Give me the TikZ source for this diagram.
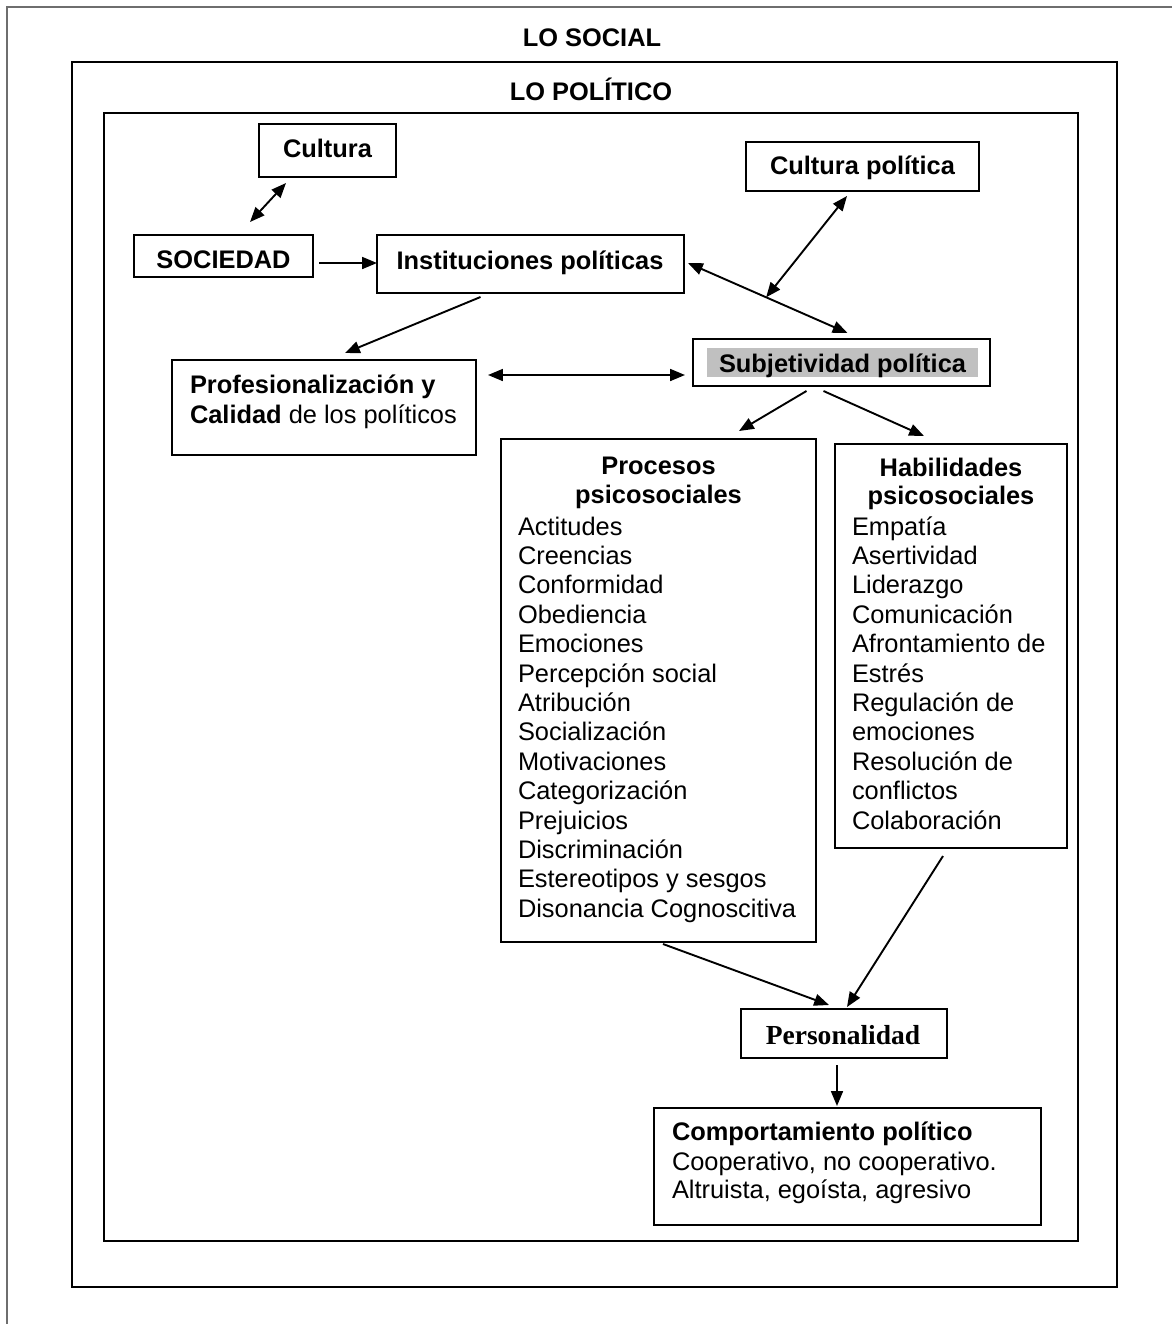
\documentclass[tikz,border=0pt]{standalone}
\usepackage{fontspec}
\setmainfont{Liberation Sans}
\newfontfamily\seriff{Liberation Serif}
\usetikzlibrary{arrows.meta,fit}
\definecolor{hl}{RGB}{192,192,192}
\definecolor{framegray}{RGB}{110,110,110}
\begin{document}
\begin{tikzpicture}[x=0.4724pt,y=-0.4724pt,
  every node/.style={font=\fontsize{12}{13.9}\selectfont, inner sep=0pt, outer sep=0pt},
  box/.style={draw, line width=0.65pt},
  frame/.style={draw, line width=0.65pt},
  arr/.style={-{Triangle[length=7pt,width=5.6pt]}, line width=0.9pt},
  dbl/.style={{Triangle[length=7pt,width=5.6pt]}-{Triangle[length=7pt,width=5.6pt]}, line width=0.9pt},
  lbl/.style={anchor=base west},
  ttl/.style={anchor=base, font=\fontsize{12}{13.9}\selectfont\bfseries}]
\useasboundingbox (0,0) rectangle (1172,1324);
\fill[white] (0,0) rectangle (1172,1324);
% page edge lines
\draw[framegray, line width=0.6pt] (7,1324) -- (7,7) -- (1172,7);
% frames
\node[frame, fit={(72,62) (1117,1287)}] (social) {};
\node[frame, fit={(104,113) (1078,1241)}] (politico) {};
\node[ttl] (tsocial) at (592,46) {LO SOCIAL};
\node[ttl] (tpolitico) at (591,100) {LO POLÍTICO};
% boxes
\node[box, fit={(259,124) (396,177)}] (cult) {};
\node[ttl] (tcult) at (327.5,157) {Cultura};
\node[box, fit={(134,235) (313,277)}] (soc) {};
\node[ttl] (tsoc) at (223.5,268) {SOCIEDAD};
\node[box, fit={(377,235) (684,293)}] (inst) {};
\node[ttl] (tinst) at (530,269) {Instituciones políticas};
\node[box, fit={(746,142) (979,191)}] (cpol) {};
\node[ttl] (tcpol) at (862.5,174) {Cultura política};
\node[box, fit={(693,339) (990,386)}] (subj) {};
\fill[hl] (707,348) rectangle (978,377);
\node[ttl] (tsubj) at (842.5,372) {Subjetividad política};
\node[box, fit={(172,360) (476,455)}] (prof) {};
\node[lbl] (tprof1) at (190,393) {\bfseries Profesionalización y};
\node[lbl] (tprof2) at (190,423) {\textbf{Calidad} de los políticos};
% Procesos psicosociales
\node[box, fit={(501,439) (816,942)}] (proc) {};
\node[ttl] (tproc1) at (658.5,474) {Procesos};
\node[ttl] (tproc2) at (658.5,503) {psicosociales};
\foreach \t [count=\i] in {Actitudes,Creencias,Conformidad,Obediencia,Emociones,Percepción social,Atribución,Socialización,Motivaciones,Categorización,Prejuicios,Discriminación,Estereotipos y sesgos,Disonancia Cognoscitiva}
  \node[lbl] (pitem\i) at (518,{535+29.4*(\i-1)}) {\t};
% Habilidades psicosociales
\node[box, fit={(835,444) (1067,848)}] (hab) {};
\node[ttl] (thab1) at (951,476) {Habilidades};
\node[ttl] (thab2) at (951,504) {psicosociales};
\foreach \t [count=\i] in {Empatía,Asertividad,Liderazgo,Comunicación,Afrontamiento de,Estrés,Regulación de,emociones,Resolución de,conflictos,Colaboración}
  \node[lbl] (hitem\i) at (852,{535+29.4*(\i-1)}) {\t};
% Personalidad
\node[box, fit={(741,1009) (947,1058)}] (pers) {};
\node[anchor=base, font=\fontsize{13}{15}\selectfont\seriff\bfseries] (tpers) at (843,1044) {Personalidad};
% Comportamiento
\node[box, fit={(654,1108) (1041,1225)}] (comp) {};
\node[lbl] (tcomp1) at (672,1140) {\bfseries Comportamiento político};
\node[lbl] (tcomp2) at (672,1170) {Cooperativo, no cooperativo.};
\node[lbl] (tcomp3) at (672,1198) {Altruista, egoísta, agresivo};
% connectors
\draw[dbl] ([shift={(-63,-13)}]soc.north east) -- ([shift={(27,6)}]cult.south west);
\draw[arr] ([shift={(6,7)}]soc.east) -- ([shift={(0,-1)}]inst.west);
\draw[arr] ([shift={(-50,4)}]inst.south) -- ([shift={(21,-7)}]prof.north);
\draw[dbl] ([shift={(12,-32.5)}]prof.east) -- ([shift={(-8,12.5)}]subj.west);
\draw[dbl] ([shift={(4,-1)}]inst.east) -- coordinate[pos=0.49] (emid) ([shift={(6,-6)}]subj.north);
\draw[dbl] ([shift={(-15.5,5)}]cpol.south) -- (emid);
\draw[arr] ([shift={(-35,5)}]subj.south) -- ([shift={(80.5,-8)}]proc.north);
\draw[arr] ([shift={(-18,5)}]subj.south) -- ([shift={(-27,-8)}]hab.north);
\draw[arr] ([shift={(4.5,2)}]proc.south) -- ([shift={(-15,-4)}]pers.north);
\draw[arr] ([shift={(-8,8)}]hab.south) -- ([shift={(3,-2)}]pers.north);
\draw[arr] ([shift={(-7,7)}]pers.south) -- ([shift={(-10.5,-2)}]comp.north);
\end{tikzpicture}
\end{document}
